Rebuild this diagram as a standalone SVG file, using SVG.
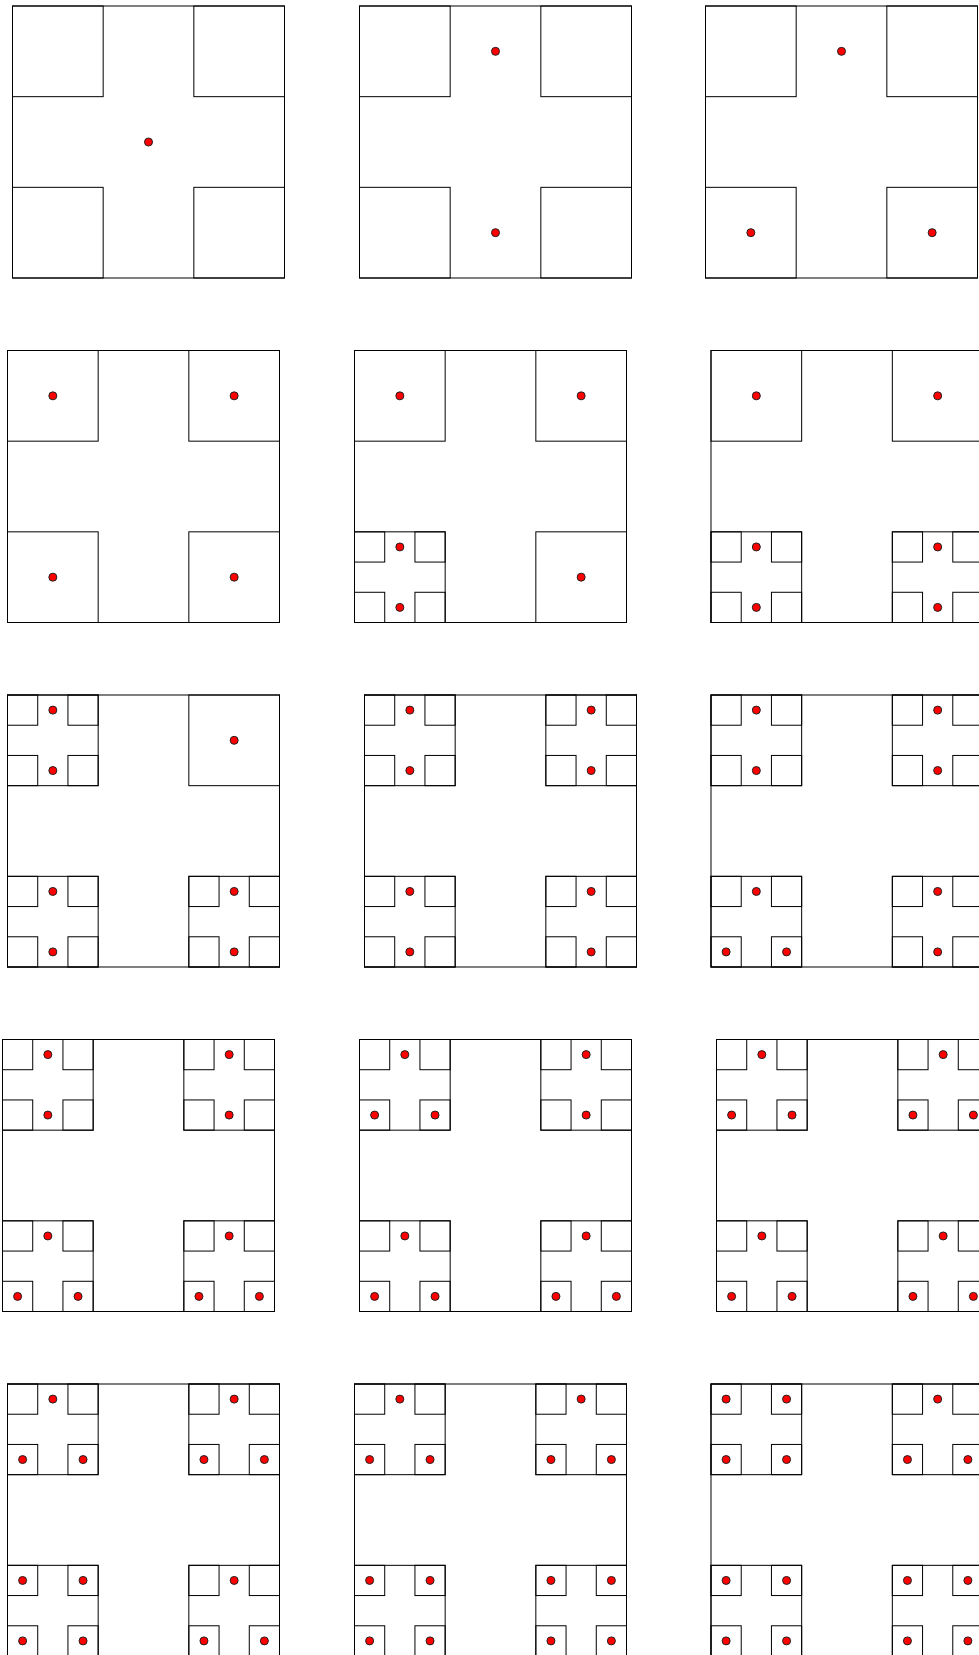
<svg xmlns="http://www.w3.org/2000/svg" xmlns:xlink="http://www.w3.org/1999/xlink" width="979" height="1655" viewBox="0 0 979 1655">
<style>
.ln{fill:none;stroke:#000;stroke-width:1}
.dt{fill:#ff0000;stroke:#222;stroke-width:1}
</style>
<defs>
<circle id="dot" class="dt" r="4"/>
<g id="base">
<rect class="ln" x="0" y="0" width="272" height="272"/>
<rect class="ln" x="0" y="0" width="90.667" height="90.667"/>
<rect class="ln" x="181.333" y="0" width="90.667" height="90.667"/>
<rect class="ln" x="0" y="181.333" width="90.667" height="90.667"/>
<rect class="ln" x="181.333" y="181.333" width="90.667" height="90.667"/>
</g>
<g id="sub">
<rect class="ln" x="0" y="0" width="30.222" height="30.222"/>
<rect class="ln" x="60.444" y="0" width="30.222" height="30.222"/>
<rect class="ln" x="0" y="60.444" width="30.222" height="30.222"/>
<rect class="ln" x="60.444" y="60.444" width="30.222" height="30.222"/>
</g>
<g id="s1"><use href="#dot" x="45.333" y="45.333"/></g>
<g id="s2"><use href="#sub"/><use href="#dot" x="45.333" y="15.111"/><use href="#dot" x="45.333" y="75.556"/></g>
<g id="s3"><use href="#sub"/><use href="#dot" x="45.333" y="15.111"/><use href="#dot" x="15.111" y="75.556"/><use href="#dot" x="75.556" y="75.556"/></g>
<g id="s4"><use href="#sub"/><use href="#dot" x="15.111" y="15.111"/><use href="#dot" x="75.556" y="15.111"/><use href="#dot" x="15.111" y="75.556"/><use href="#dot" x="75.556" y="75.556"/></g>
</defs>
<rect x="0" y="0" width="979" height="1655" fill="#fff"/>
<g id="connectors"/>
<g id="p1" transform="translate(12.5,6)"><use href="#base"/><use href="#dot" x="136" y="136"/></g>
<g id="p2" transform="translate(359.5,6)"><use href="#base"/><use href="#dot" x="136" y="45.333"/><use href="#dot" x="136" y="226.667"/></g>
<g id="p3" transform="translate(705.5,6)"><use href="#base"/><use href="#dot" x="136" y="45.333"/><use href="#dot" x="45.333" y="226.667"/><use href="#dot" x="226.667" y="226.667"/></g>

<g id="p4" transform="translate(7.5,350.5)"><use href="#base"/><use href="#s1"/><use href="#s1" x="181.333"/><use href="#s1" y="181.333"/><use href="#s1" x="181.333" y="181.333"/></g>
<g id="p5" transform="translate(354.5,350.5)"><use href="#base"/><use href="#s1"/><use href="#s1" x="181.333"/><use href="#s2" y="181.333"/><use href="#s1" x="181.333" y="181.333"/></g>
<g id="p6" transform="translate(711,350.5)"><use href="#base"/><use href="#s1"/><use href="#s1" x="181.333"/><use href="#s2" y="181.333"/><use href="#s2" x="181.333" y="181.333"/></g>

<g id="p7" transform="translate(7.5,695)"><use href="#base"/><use href="#s2"/><use href="#s1" x="181.333"/><use href="#s2" y="181.333"/><use href="#s2" x="181.333" y="181.333"/></g>
<g id="p8" transform="translate(364.5,695)"><use href="#base"/><use href="#s2"/><use href="#s2" x="181.333"/><use href="#s2" y="181.333"/><use href="#s2" x="181.333" y="181.333"/></g>
<g id="p9" transform="translate(711,695)"><use href="#base"/><use href="#s2"/><use href="#s2" x="181.333"/><use href="#s3" y="181.333"/><use href="#s2" x="181.333" y="181.333"/></g>

<g id="p10" transform="translate(2.5,1039.5)"><use href="#base"/><use href="#s2"/><use href="#s2" x="181.333"/><use href="#s3" y="181.333"/><use href="#s3" x="181.333" y="181.333"/></g>
<g id="p11" transform="translate(359.5,1039.5)"><use href="#base"/><use href="#s3"/><use href="#s2" x="181.333"/><use href="#s3" y="181.333"/><use href="#s3" x="181.333" y="181.333"/></g>
<g id="p12" transform="translate(716.5,1039.5)"><use href="#base"/><use href="#s3"/><use href="#s3" x="181.333"/><use href="#s3" y="181.333"/><use href="#s3" x="181.333" y="181.333"/></g>

<g id="p13" transform="translate(7.5,1384)"><use href="#base"/><use href="#s3"/><use href="#s3" x="181.333"/><use href="#s4" y="181.333"/><use href="#s3" x="181.333" y="181.333"/></g>
<g id="p14" transform="translate(354.5,1384)"><use href="#base"/><use href="#s3"/><use href="#s3" x="181.333"/><use href="#s4" y="181.333"/><use href="#s4" x="181.333" y="181.333"/></g>
<g id="p15" transform="translate(711,1384)"><use href="#base"/><use href="#s4"/><use href="#s3" x="181.333"/><use href="#s4" y="181.333"/><use href="#s4" x="181.333" y="181.333"/></g>
</svg>
